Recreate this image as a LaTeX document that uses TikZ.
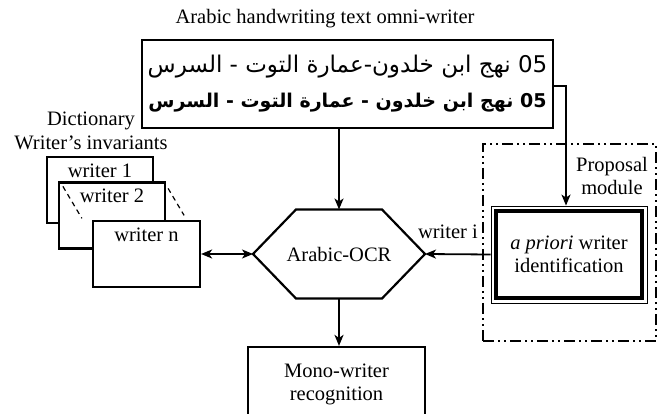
\documentclass[tikz,border=0pt]{standalone}
\usepackage{fontspec}
\setmainfont{Liberation Serif}
\newfontfamily\arabicfont[Script=Arabic]{DejaVu Sans}
\TeXXeTstate=1
\usetikzlibrary{arrows.meta,calc}
\begin{document}
\begin{tikzpicture}[x = 1pt, y = -1pt,
    font = \fontsize{20.5}{23.5}\selectfont,
    >={Stealth[length=11pt,width=9pt,inset=3pt]},
    box/.style = {draw, line width = 2.2pt, fill = white},
    wbox/.style = {box, minimum width = 106pt, minimum height = 66pt, inner sep = 0pt},
    link/.style = {line width = 1.8pt}]
  \useasboundingbox (0,0) rectangle (664,414);

  % input text
  \node (title) at (325,19) {Arabic handwriting text omni-writer};
  \node [box, minimum width = 411pt, minimum height = 88pt, inner sep = 0pt, align = center,
         font = \arabicfont] (hw) at (347.5,84)
    {\fontsize{23}{30}\selectfont\beginR 05 نهج ابن خلدون-عمارة التوت - السرس\endR\\[14pt]
     \fontsize{19}{30}\selectfont\bfseries\beginR 05 نهج ابن خلدون - عمارة التوت - السرس\endR};

  % dictionary of writers
  \node [align = center] (dict) at (91,131) {Dictionary\\Writer’s invariants};
  \foreach \name/\pos/\txt in {w1/{(100,190)}/writer 1, w2/{(112,215.5)}/writer 2} {
    \node [wbox, label = {[anchor = north, yshift = -4pt]north:\txt}] (\name) at \pos {};
  }
  \draw [dash pattern = on 5pt off 4pt, line width = 1.2pt]
    ($(w2.north west) + (5,5)$) -- ($(w2.north west) + (24,37)$);
  \draw [dash pattern = on 5pt off 4pt, line width = 1.2pt]
    ($(w2.north east) + (2,7)$) -- ($(w2.north east) + (18,34)$);
  \node [wbox, minimum width = 107pt, label = {[anchor = north, yshift = -4pt]north:writer n}]
    (wn) at (146.5,254) {};

  % recognizer
  \coordinate (ocrW) at (253,254);
  \coordinate (ocrE) at (425,254);
  \coordinate (ocrN) at (339,209.5);
  \coordinate (ocrS) at (339,298.5);
  \draw [line width = 2.2pt] (ocrW) -- (296,209.5) -- (382,209.5) -- (ocrE)
    -- (382,298.5) -- (296,298.5) -- cycle;
  \node (ocr) at (339,254) {Arabic-OCR};
  \node [box, minimum width = 177pt, minimum height = 75pt, align = center]
    (mono) at (336.5,384.5) {Mono-writer\\recognition};

  % proposal module
  \node [draw, line width = 2pt, minimum width = 173pt, minimum height = 197pt,
         dash pattern = on 11pt off 4pt on 2pt off 4pt on 2pt off 4pt]
    (module) at (569.5,242.5) {};
  \node [align = center] (modlab) at (612,176) {Proposal\\module};
  \node [draw, line width = .8pt, minimum width = 156pt, minimum height = 97pt,
         align = center] (prio) at (569,254.5) {\textit{a priori} writer\\identification};
  \draw [line width = 3.8pt] ([shift = {(5.5,5.5)}]prio.north west)
    rectangle ([shift = {(-5.5,-5.5)}]prio.south east);

  % connections
  \coordinate (tap) at (566,86);
  \draw [link, ->] (hw.south -| ocrN) -- (ocrN);
  \draw [link, ->] (hw.east |- tap) -- (tap) -- (tap |- prio.north);
  \draw [link, ->] (prio.west) -- (ocrE);
  \node (wi) at (448,232) {writer i};
  \draw [link, <->] (wn.east) -- (ocrW);
  \draw [link, ->] (ocrS) -- (ocrS |- mono.north);
\end{tikzpicture}
\end{document}
